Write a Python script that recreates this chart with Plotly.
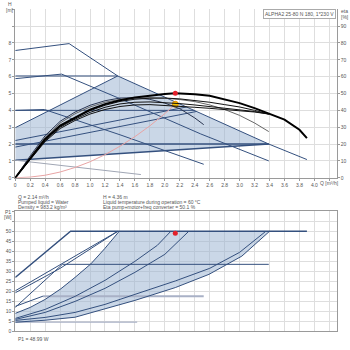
import plotly.graph_objects as go

W = H = 350
def px(x): return x / W
def py(y): return 1 - y / H

# ---------------- upper chart data: head H [m] vs flow Q [m3/h] ----------------
q_curve3 = [0, 0.72, 1.37, 2.48, 3.39, 3.9]
h_curve3 = [7.55, 7.96, 6.04, 3.82, 2.0, 1.08]
q_curve2 = [0, 0.62, 1.37, 2.0, 2.48, 3.39]
h_curve2 = [5.88, 6.15, 4.75, 3.55, 2.6, 1.0]
q_curve1 = [0, 0.39, 1.4, 2.52]
h_curve1 = [4.0, 4.05, 2.55, 0.8]
q_cp3 = [0, 1.37]; h_cp3 = [6.04, 6.04]
q_cp2 = [0, 2.39]; h_cp2 = [4.0, 4.0]
q_cp1 = [0, 3.39]; h_cp1 = [2.0, 2.0]
q_pp3 = [0, 1.37]; h_pp3 = [2.97, 6.04]
q_ppa = [0, 2.29]; h_ppa = [2.21, 4.2]
q_ppb = [0, 2.42]; h_ppb = [1.82, 3.93]
q_pp1 = [0, 3.39]; h_pp1 = [1.04, 2.0]
q_minh = [0, 1.68]; h_minh = [1.04, 0.19]
q_area = [0, 3.39, 2.48, 1.37, 0]
h_area = [1.04, 2.0, 3.82, 6.04, 2.97]
q_sys = [0, 0.2, 0.4, 0.6, 0.8, 1.0, 1.2, 1.4, 1.6, 1.8, 2.0, 2.14]
h_sys = [0, 0.04, 0.15, 0.34, 0.61, 0.95, 1.37, 1.87, 2.44, 3.08, 3.81, 4.36]

# efficiency curves, eta [%]
q_eta = [0, 0.2, 0.4, 0.6, 0.8, 1.0, 1.2, 1.4, 1.6, 1.8, 2.0, 2.14, 2.2, 2.4, 2.6, 2.8, 3.0, 3.2, 3.4, 3.6, 3.8, 3.9]
eta_max = [0, 11.3, 23.1, 31, 35.9, 40.4, 43.7, 46, 47.6, 48.8, 49.7, 50.1, 50.0, 49.5, 48.6, 46.6, 44.3, 41.3, 37.8, 34.5, 28.5, 23.5]
q_eta_s = [0, 0.2, 0.4, 0.6, 0.8, 1.0, 1.2, 1.4, 1.6, 1.8, 2.0, 2.2, 2.4, 2.6, 2.8, 3.0, 3.2, 3.39]
eta_b = [0, 11, 22.5, 30.5, 35.5, 39.8, 43, 45.3, 46.6, 47.2, 47.3, 46.8, 46, 44.8, 43.4, 42, 40, 37.8]
eta_c = [0, 10.8, 22, 30, 34.8, 38.8, 41.8, 43.8, 44.8, 45, 44.6, 44, 43.2, 42.2, 41.3, 40.4, 39.3, 37.8]
eta_d = [0, 10.5, 21.5, 29.2, 34, 37.8, 40.5, 42.3, 43.2, 43.4, 43, 42.4, 41.8, 41.2, 40.6, 40, 39, 37.8]
eta_2 = [0, 12, 24, 32.5, 38, 42, 44.8, 46.5, 47.3, 47.5, 47.2, 46.4, 45.2, 43.2, 40.5, 37, 32.5, 27.4]
q_eta_1 = [0, 0.2, 0.4, 0.6, 0.8, 1.0, 1.2, 1.4, 1.6, 1.8, 2.0, 2.2, 2.4, 2.52]
eta_1 = [0, 13, 25, 33.5, 39, 43, 45.7, 47.3, 47.5, 46.5, 44.3, 41, 35.5, 31.5]

duty_q = 2.14; duty_h = 4.36; duty_eta = 50.1; duty_p = 48.99

# ---------------- lower chart data: power P1 [W] vs Q ----------------
q_p3 = [0, 0.74, 3.9]; p_p3 = [27, 50, 50]
q_p2 = [0, 0.63, 3.39]; p_p2 = [12, 33.5, 33.5]
q_p1r = [0, 0.37]; p_p1r = [12.5, 17.6]
q_p1f = [0.37, 2.52]; p_p1f = [17.6, 17.6]
q_pcp3 = [0, 1.37]; p_pcp3 = [20.3, 50]
q_pcp3b = [0, 0.6, 1.37]; p_pcp3b = [19.3, 31.5, 50]
q_ppp3 = [0, 0.2, 0.4, 0.61, 0.8, 1.01, 1.2, 1.39]
p_ppp3 = [9, 12, 16, 21.3, 27, 33.7, 41.5, 50]
q_pppa = [0, 0.4, 0.8, 1.2, 1.6, 1.9, 2.08]
p_pppa = [6.5, 11, 17.5, 25.5, 35, 43, 50]
q_pppb = [0, 0.4, 0.8, 1.2, 1.6, 2.0, 2.32]
p_pppb = [6, 9.5, 15, 21.5, 29.5, 38.5, 50]
q_pbot = [0, 0.4, 0.8, 1.2, 1.6, 2.14, 2.59, 3.03, 3.4]
p_pbot = [4.6, 5.6, 7.1, 11.2, 15.5, 21.9, 28.5, 37.6, 50]
q_pbot2 = [0, 0.4, 0.8, 1.2, 1.6, 2.14, 2.6, 3.0, 3.35]
p_pbot2 = [5.5, 7, 9.5, 13.5, 18.5, 25.2, 31.5, 39.5, 50]
q_pmin = [0, 1.63]; p_pmin = [4.6, 4.6]

q_ticks = [round(0.2 * i, 1) for i in range(22)]
q_labels = ["0"] + [f"{v:.1f}" for v in q_ticks[1:21]] + [""]

NAVY = "#34507e"
GRAY = "#a9b1c6"
FILL = "rgba(150,175,207,0.5)"
GRID = "#dedede"
AX = "#9a9a9a"
FONT = "Liberation Sans"

fig = go.Figure()

def line(x, y, color=NAVY, width=1, xa="x", ya="y"):
    fig.add_trace(go.Scatter(x=x, y=y, mode="lines", xaxis=xa, yaxis=ya,
                             line=dict(color=color, width=width), hoverinfo="skip"))

# upper area
fig.add_trace(go.Scatter(x=q_area, y=h_area, mode="lines", fill="toself", fillcolor=FILL,
                         line=dict(width=0), xaxis="x", yaxis="y", hoverinfo="skip"))
line(q_curve3, h_curve3)
line(q_curve2, h_curve2)
line(q_curve1, h_curve1)
line(q_cp3, h_cp3)
line(q_cp2, h_cp2)
line(q_cp1, h_cp1, width=1.4)
line(q_pp3, h_pp3)
line(q_ppa, h_ppa)
line(q_ppb, h_ppb)
line(q_pp1, h_pp1, width=1.4)
line(q_minh, h_minh, color="#a0a6b4", width=1)
line(q_sys, h_sys, color="#e8a4a4", width=1)
# efficiency curves (right axis)
line(q_eta_1, eta_1, color="#2a3550", width=1, ya="y2")
line(q_eta_s, eta_2, color="#666666", width=1, ya="y2")
line(q_eta_s, eta_d, color="#111111", width=1, ya="y2")
line(q_eta_s, eta_c, color="#111111", width=1, ya="y2")
line(q_eta_s, eta_b, color="#111111", width=1, ya="y2")
line(q_eta, eta_max, color="#000000", width=2, ya="y2")
fig.add_trace(go.Scatter(x=[duty_q], y=[duty_eta], mode="markers", xaxis="x", yaxis="y2",
                         marker=dict(color="#e3202a", size=5), hoverinfo="skip"))
fig.add_trace(go.Scatter(x=[duty_q], y=[duty_h], mode="markers", xaxis="x", yaxis="y",
                         marker=dict(color="#f5c000", size=6, line=dict(color="#e88a00", width=1)),
                         hoverinfo="skip"))

# lower area
fig.add_trace(go.Scatter(x=q_ppp3 + [3.4] + q_pbot[::-1], y=p_ppp3 + [50] + p_pbot[::-1],
                         mode="lines", fill="toself", fillcolor=FILL, line=dict(width=0),
                         xaxis="x2", yaxis="y3", hoverinfo="skip"))
L = dict(xa="x2", ya="y3")
line(q_p1f, p_p1f, color=GRAY, width=2, **L)
line(q_pmin, p_pmin, color=GRAY, width=1.3, **L)
line(q_p3, p_p3, width=1.4, **L)
line(q_p2, p_p2, **L)
line(q_p1r, p_p1r, **L)
line(q_pcp3, p_pcp3, **L)
line(q_pcp3b, p_pcp3b, **L)
line(q_ppp3, p_ppp3, **L)
line(q_pppa, p_pppa, **L)
line(q_pppb, p_pppb, **L)
line(q_pbot, p_pbot, **L)
line(q_pbot2, p_pbot2, **L)
fig.add_trace(go.Scatter(x=[duty_q], y=[duty_p], mode="markers", xaxis="x2", yaxis="y3",
                         marker=dict(color="#e3202a", size=5), hoverinfo="skip"))

xdom = [px(14.3), px(336.8)]
tickfont = dict(family=FONT, size=5, color="#555")
fig.update_layout(
    width=W, height=H, margin=dict(l=0, r=0, t=0, b=0),
    paper_bgcolor="white", plot_bgcolor="white", showlegend=False,
    font=dict(family=FONT, size=5, color="#444"),
    xaxis=dict(domain=xdom, range=[0, 4.3], anchor="y", tickvals=q_ticks, ticktext=q_labels,
               showgrid=True, gridcolor=GRID, gridwidth=1, zeroline=False,
               showline=True, linecolor=AX, linewidth=1, ticks="outside", ticklen=2,
               tickcolor=AX, tickfont=tickfont),
    yaxis=dict(domain=[py(179.3), py(9.3)], range=[0, 10], anchor="x",
               tickvals=list(range(11)), ticktext=[str(i) for i in range(9)] + ["", ""],
               showgrid=True, gridcolor=GRID, gridwidth=1, zeroline=False,
               showline=True, linecolor=AX, linewidth=1, ticks="outside", ticklen=2,
               tickcolor=AX, tickfont=tickfont),
    yaxis2=dict(overlaying="y", side="right", range=[0, 100], anchor="x",
                tickvals=list(range(0, 100, 10)), showgrid=False, zeroline=False,
                showline=True, linecolor=AX, linewidth=1, ticks="outside", ticklen=2,
                tickcolor=AX, tickfont=tickfont),
    xaxis2=dict(domain=xdom, range=[0, 4.3], anchor="y3", tickvals=q_ticks,
                showticklabels=False, showgrid=True, gridcolor=GRID, gridwidth=1,
                zeroline=False, showline=True, mirror=True, linecolor=AX, linewidth=1),
    yaxis3=dict(domain=[py(334.3), py(213.1)], range=[0, 60], anchor="x2",
                tickvals=list(range(0, 65, 5)),
                ticktext=[str(v) for v in range(0, 55, 5)] + ["", ""],
                showgrid=True, gridcolor=GRID, gridwidth=1, zeroline=False,
                showline=True, mirror=True, linecolor=AX, linewidth=1,
                ticks="outside", ticklen=2, tickcolor=AX, tickfont=tickfont),
)

def note(x, y, text, anchor="left", size=5, **kw):
    fig.add_annotation(x=px(x), y=py(y), xref="paper", yref="paper", text=text,
                       showarrow=False, xanchor=anchor, yanchor="middle",
                       font=dict(family=FONT, size=size, color="#555"), **kw)

note(9, 4.5, "H", anchor="center")
note(9, 10, "[m]", anchor="center")
note(339, 11.5, "eta", anchor="left")
note(339, 17, "[%]", anchor="left")
note(7, 213.5, "P1", anchor="center")
note(7, 218.5, "[W]", anchor="center")
note(318, 184.7, "Q [m³/h]", anchor="left")
note(15, 198.3, "Q = 2.14 m³/h")
note(15, 203.7, "Pumped liquid = Water")
note(15, 209, "Density = 983.2 kg/m³")
note(100, 198.3, "H = 4.36 m")
note(100, 203.7, "Liquid temperature during operation = 60 °C")
note(100, 209, "Eta pump+motor+freq converter = 50.1 %")
note(15, 342.3, "P1 = 48.99 W")
note(335.5, 14.5, "ALPHA2 25-80 N 180, 1*230 V", anchor="right",
     bordercolor="#aaaaaa", borderwidth=1, borderpad=1, bgcolor="white")

fig.write_html("out.html")
